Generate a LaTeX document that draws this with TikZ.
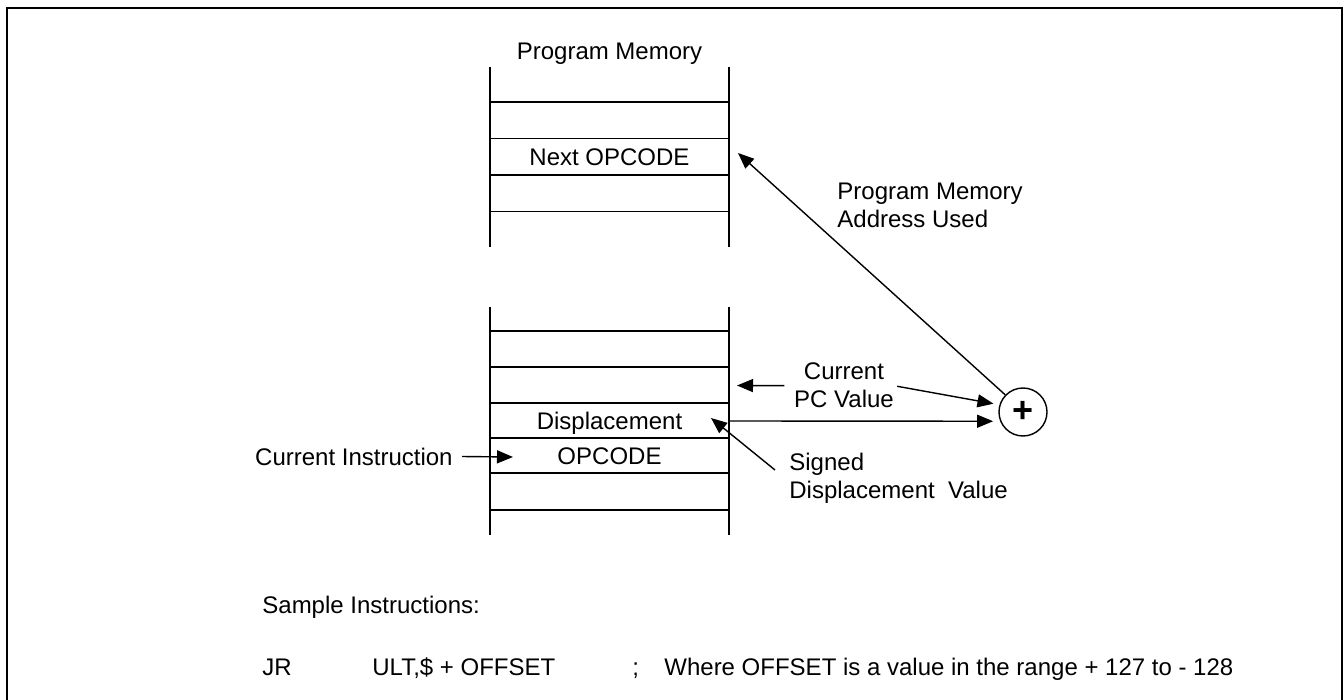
\documentclass[tikz,border=0pt]{standalone}
\usepackage{fontspec}
\setmainfont{Liberation Sans}
\usetikzlibrary{arrows.meta}

\begin{document}
\begin{tikzpicture}[x=0.5pt,y=-0.5pt]
  % Local definitions
  \def\colL{490}
  \def\colR{729}
  \def\colM{609.5}

  % Styles
  \tikzstyle{frame line}=[line width=1pt]
  \tikzstyle{cell line}=[line width=0.75pt]
  \tikzstyle{pointer}=[line width=0.7pt,-{Triangle[length=8pt,width=6.5pt]}]
  \tikzstyle{label}=[inner sep=0pt,font=\fontsize{12}{14}\selectfont]

  \useasboundingbox (0,0) rectangle (1344,700);

  % Frame
  \draw[frame line] (7,700) -- (7,8) -- (1342,8) -- (1342,700);

  % Upper block of program memory
  \draw[cell line] (\colL,67) -- (\colL,247) (\colR,67) -- (\colR,247);
  \foreach \y in {102,138.5,175,211.5}
    \draw[cell line] (\colL,\y) -- (\colR,\y);

  % Lower block of program memory
  \draw[cell line] (\colL,307) -- (\colL,535) (\colR,307) -- (\colR,535);
  \foreach \y in {331,367,403,438,473,510}
    \draw[cell line] (\colL,\y) -- (\colR,\y);

  % Texts (base of a two-line node is its last line)
  \node[label,anchor=base] (title) at (\colM,60) {Program Memory};
  \node[label,anchor=base] (nextop) at (\colM,165.5) {Next OPCODE};
  \node[label,anchor=base] (disp) at (\colM,429.5) {Displacement};
  \node[label,anchor=base] (opcode) at (\colM,464.5) {OPCODE};
  \node[label,anchor=base east] (curinstr) at (453,465) {Current Instruction};
  \node[label,anchor=base,align=center] (pcval) at (844,408) {Current\\PC Value};
  \node[label,anchor=base west,align=left] (signed) at (789,498) {Signed\\Displacement\ \ Value};
  \node[label,anchor=base west,align=left] (addrused) at (837,228) {Program Memory\\Address Used};

  % Adder
  \node[draw,circle,line width=0.7pt,minimum size=24pt,inner sep=0pt,
        font=\fontsize{18}{18}\selectfont\bfseries] (plus) at (1023,412) {+};

  % Marks on the memory
  \coordinate (opcmark) at (513,457);
  \coordinate (pcmark) at (737,385.5);
  \coordinate (dispout) at (\colR,421);
  \coordinate (dispmark) at (711,418);
  \coordinate (sgtail) at (775,470);
  \coordinate (nextmark) at (738,153);

  % Lines
  \draw[pointer,shorten <=4.5pt] (curinstr.east) -- (opcmark);
  \draw[pointer,shorten <=4.75pt] (pcval.west) -- (pcmark);
  \draw[pointer,shorten <=1.5pt,shorten >=3pt] (pcval.east) -- (plus.163);
  \draw[pointer,shorten >=3.5pt] (dispout) -- (plus.202);
  \draw[pointer] (sgtail) -- (dispmark);
  \draw[pointer] (plus.136) -- (nextmark);

  % Sample instructions
  \node[label,anchor=base west] (sample) at (262,613) {Sample Instructions:};
  \node[label,anchor=base west] (jr) at (262,675) {JR};
  \node[label,anchor=base west] (ult) at (372,675) {ULT,\$ + OFFSET};
  \node[label,anchor=base west] (semi) at (632,675) {;};
  \node[label,anchor=base west] (where) at (664,675)
    {Where OFFSET is a value in the range + 127 to - 128};
\end{tikzpicture}
\end{document}
